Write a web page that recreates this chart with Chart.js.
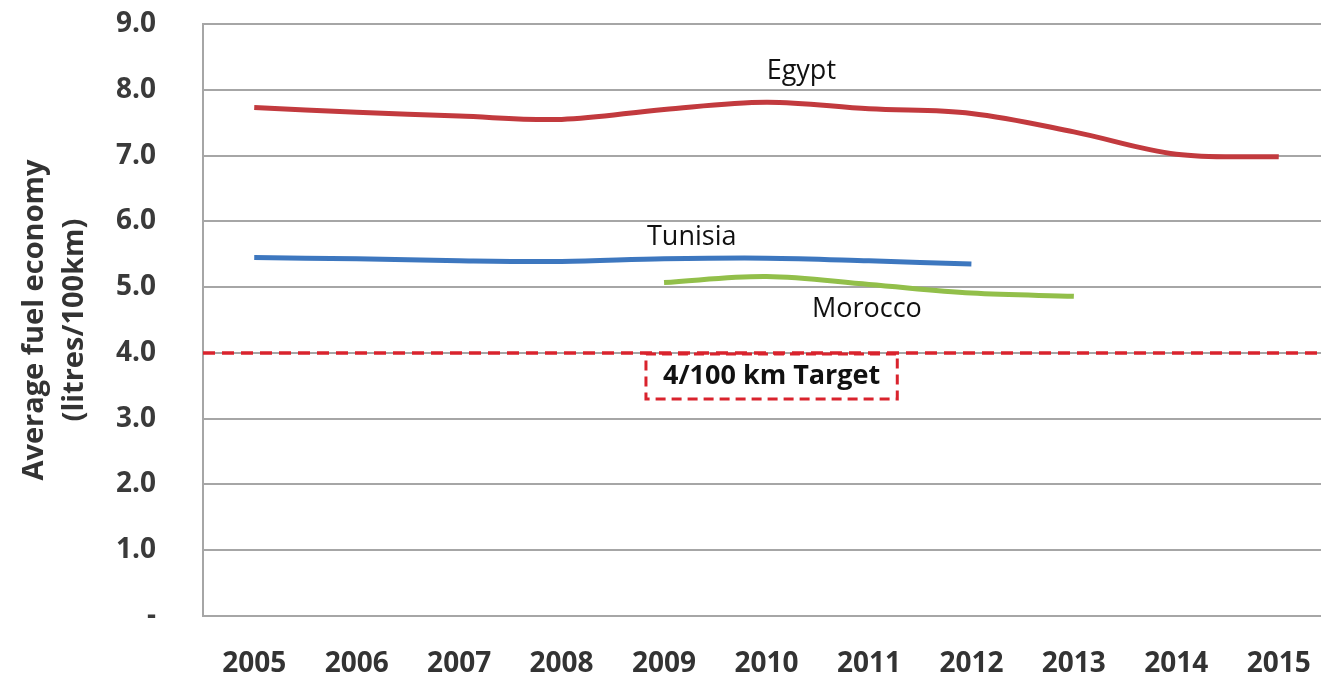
<!DOCTYPE html>
<html>
<head>
<meta charset="utf-8">
<script src="https://cdn.jsdelivr.net/npm/chart.js@4.4.1/dist/chart.umd.min.js"></script>
<style>
html,body{margin:0;padding:0;background:#fff;overflow:hidden;}
#wrap{position:relative;width:1340px;height:681px;}
</style>
</head>
<body>
<div id="wrap"><canvas id="c"></canvas></div>
<script>
const years = ['2005','2006','2007','2008','2009','2010','2011','2012','2013','2014','2015'];
const egypt   = [7.73, 7.66, 7.60, 7.55, 7.70, 7.81, 7.71, 7.64, 7.36, 7.02, 6.98];
const tunisia = [5.45, 5.43, 5.40, 5.39, 5.43, 5.44, 5.40, 5.35, null, null, null];
const morocco = [null, null, null, null, 5.07, 5.16, 5.04, 4.91, 4.86, null, null];
const target = 4.0;
const yTicks = [0,1,2,3,4,5,6,7,8,9];
const seriesNames = ['Egypt','Tunisia','Morocco'];
// label anchors in data units: [category index, value]
const labelAnchors = [[5.34, 8.28],[4.27, 5.76],[5.98, 4.67]];
const targetLabel = '4/100 km Target';
const targetLabelAnchor = [5.05, 4.0];

const annot = {
  id:'annot',
  afterDatasetsDraw(chart){
    const {ctx, scales:{x,y}, chartArea} = chart;
    ctx.save();
    ctx.strokeStyle = '#d9232d';
    ctx.lineWidth = 3.5;
    ctx.setLineDash([12,7]);
    const ty = y.getPixelForValue(target);
    ctx.beginPath(); ctx.moveTo(chartArea.left, ty); ctx.lineTo(chartArea.right, ty); ctx.stroke();
    ctx.font = 'bold 27px "Open Sans"';
    const tw = ctx.measureText(targetLabel).width;
    const cx = x.getPixelForValue(targetLabelAnchor[0]);
    const top = y.getPixelForValue(targetLabelAnchor[1]) + 1;
    const bw = tw + 34, bh = 45;
    ctx.lineWidth = 3;
    ctx.setLineDash([10,6]);
    ctx.strokeRect(cx - bw/2, top, bw, bh);
    ctx.setLineDash([]);
    ctx.fillStyle = '#111';
    ctx.textAlign = 'center'; ctx.textBaseline = 'middle';
    ctx.fillText(targetLabel, cx, top + bh/2);
    ctx.font = '27px "Open Sans"';
    seriesNames.forEach((n,i)=>{
      ctx.fillText(n, x.getPixelForValue(labelAnchors[i][0]), y.getPixelForValue(labelAnchors[i][1]));
    });
    ctx.restore();
  }
};

new Chart(document.getElementById('c'), {
  type:'line',
  data:{
    labels: years,
    datasets:[
      {label:'Egypt', data:egypt, borderColor:'#c23a3e', borderWidth:5, pointRadius:0, tension:0.35, fill:false},
      {label:'Tunisia', data:tunisia, borderColor:'#3d77bf', borderWidth:5, pointRadius:0, tension:0.35, fill:false},
      {label:'Morocco', data:morocco, borderColor:'#92bf4a', borderWidth:5, pointRadius:0, tension:0.35, fill:false}
    ]
  },
  options:{
    responsive:true, maintainAspectRatio:false, animation:false,
    layout:{padding:{top:24, right:10, left:0, bottom:0}},
    plugins:{legend:{display:false}, tooltip:{enabled:false}},
    scales:{
      x:{
        offset:true,
        grid:{display:false, drawTicks:false},
        border:{display:true, color:'#a6a6a6', width:2},
        ticks:{color:'#333', font:{family:'"Open Sans"', size:28, weight:'bold'}, padding:31, maxRotation:0, autoSkip:false},
        afterFit(s){ s.height = 65; s.paddingLeft = 0; s.paddingRight = 0; }
      },
      y:{
        min:0, max:9,
        afterBuildTicks(s){ s.ticks = yTicks.map(v=>({value:v})); },
        grid:{color:'#a6a6a6', lineWidth:2, drawTicks:false},
        border:{display:true, color:'#a6a6a6', width:2},
        ticks:{color:'#3a3a3a', font:{family:'"Open Sans"', size:28, weight:'bold'}, padding:47,
          callback:v=> v===0 ? '-' : v.toFixed(1)},
        title:{display:true, text:['Average fuel economy','(litres/100km)'], color:'#333',
          font:{family:'"Open Sans"', size:29, weight:'bold', lineHeight:1.38}, padding:{top:15, bottom:0}},
        afterFit(s){ s.width = 203; s.paddingTop = 0; s.paddingBottom = 0; }
      }
    }
  },
  plugins:[annot]
});
</script>
</body>
</html>
